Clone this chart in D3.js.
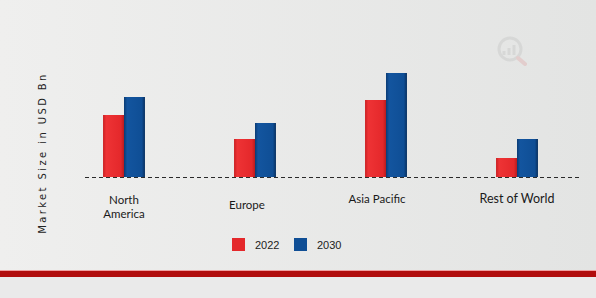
<!DOCTYPE html>
<html><head><meta charset="utf-8">
<script src="https://cdn.jsdelivr.net/npm/d3@7"></script>
<style>html,body{margin:0;padding:0;background:#e7e8e7;}svg{display:block;}</style>
</head><body>
<svg id="c" width="596" height="298"></svg>
<script>
const categories = ["North America", "Europe", "Asia Pacific", "Rest of World"];
const seriesNames = ["2022", "2030"];
const values2022 = [6.2, 3.8, 7.7, 1.9];
const values2030 = [8.0, 5.4, 10.4, 3.8];
const colors = ["#e4282b", "#0f4e95"];
const yTitle = "Market Size in USD Bn";

const svg = d3.select("#c");
const W = 596, H = 298;
const defs = svg.append("defs");
const bg = defs.append("linearGradient").attr("id","bg").attr("x1","0").attr("x2","1");
bg.append("stop").attr("offset","0").attr("stop-color","#efefee");
bg.append("stop").attr("offset","1").attr("stop-color","#e3e4e3");
svg.append("rect").attr("width",W).attr("height",H).attr("fill","url(#bg)");

const gr = defs.append("linearGradient").attr("id","gRed").attr("x1","0").attr("x2","1");
gr.append("stop").attr("offset","0").attr("stop-color","#c91f22");
gr.append("stop").attr("offset","0.15").attr("stop-color","#ee3335");
gr.append("stop").attr("offset","0.85").attr("stop-color","#e4282b");
gr.append("stop").attr("offset","1").attr("stop-color","#b81c1f");
const gb = defs.append("linearGradient").attr("id","gBlue").attr("x1","0").attr("x2","1");
gb.append("stop").attr("offset","0").attr("stop-color","#0a3b74");
gb.append("stop").attr("offset","0.15").attr("stop-color","#13559f");
gb.append("stop").attr("offset","0.85").attr("stop-color","#0f4e95");
gb.append("stop").attr("offset","1").attr("stop-color","#082f5e");
const fills = ["url(#gRed)", "url(#gBlue)"];

// watermark
const wm = svg.append("g").attr("opacity",0.25);
wm.append("circle").attr("cx",510).attr("cy",49).attr("r",11).attr("fill","none").attr("stroke","#b0b0b0").attr("stroke-width",3);
[[504,4],[509,7],[514,10]].forEach(([bx,bh])=>wm.append("rect").attr("x",bx-1.5).attr("y",55-bh).attr("width",3).attr("height",bh).attr("fill","#b0b0b0"));
wm.append("line").attr("x1",518).attr("y1",58).attr("x2",525).attr("y2",64).attr("stroke","#e08a8a").attr("stroke-width",4).attr("stroke-linecap","round");

const baseY = 177, topY = 73;
const x0 = d3.scaleBand().domain(categories).range([58.5, 582.5]).paddingInner(0.68).paddingOuter(0.34);
const x1 = d3.scaleBand().domain(seriesNames).range([0, x0.bandwidth()]);
const y = d3.scaleLinear().domain([0, d3.max(values2030)]).range([baseY, topY]);

const data = categories.map((c,i)=>({cat:c, vals:[values2022[i], values2030[i]]}));
const groups = svg.selectAll("g.grp").data(data).enter().append("g")
  .attr("transform", d=>`translate(${x0(d.cat)},0)`);
groups.selectAll("rect").data(d=>d.vals.map((v,j)=>({v, s:seriesNames[j], j})))
  .enter().append("rect")
  .attr("x", d=>x1(d.s)).attr("width", x1.bandwidth())
  .attr("y", d=>y(d.v)).attr("height", d=>baseY - y(d.v))
  .attr("fill", d=>fills[d.j]);

// dashed baseline
svg.append("line").attr("x1",85).attr("x2",580).attr("y1",baseY+0.5).attr("y2",baseY+0.5)
  .attr("stroke","#2a2a2a").attr("stroke-width",1).attr("stroke-dasharray","4,3");

// category labels
const labelPos = {
  "North America": {dx:0, y:[204, 218]},
  "Europe": {dx:-8, y:[209]},
  "Asia Pacific": {dx:-9, y:[203]},
  "Rest of World": {dx:0, y:[203]}
};
categories.forEach(c=>{
  const cx = x0(c) + x0.bandwidth()/2 + labelPos[c].dx;
  const lines = c === "North America" ? ["North","America"] : [c];
  lines.forEach((t,k)=>{
    svg.append("text").attr("x",cx).attr("y",labelPos[c].y[k])
      .attr("text-anchor","middle").attr("font-family","Lato, 'Open Sans', sans-serif")
      .attr("font-size", c==="Rest of World" ? 12.5 : 11.5).attr("fill","#1a1a1a").text(t);
  });
});

// y title
svg.append("text").attr("transform","translate(46,153) rotate(-90)")
  .attr("text-anchor","middle").attr("font-family","'DejaVu Sans', sans-serif")
  .attr("font-size",10).attr("letter-spacing","2.4px").attr("fill","#222").text(yTitle);

// legend
const lg = svg.append("g");
const legX = [232, 294];
seriesNames.forEach((s,i)=>{
  lg.append("rect").attr("x",legX[i]).attr("y",238).attr("width",13).attr("height",13).attr("fill",colors[i]);
  lg.append("text").attr("x",legX[i]+23).attr("y",248.5).attr("font-family","'Liberation Sans', Arial, sans-serif")
    .attr("font-size",11).attr("fill","#222").text(s);
});

// bottom red band
svg.append("rect").attr("x",0).attr("y",271).attr("width",W).attr("height",6).attr("fill","#b10d0d");
svg.append("rect").attr("x",0).attr("y",270).attr("width",W).attr("height",1).attr("fill","#f0a0a0");
svg.append("rect").attr("x",0).attr("y",277).attr("width",W).attr("height",21).attr("fill","#eaeaea");
</script>
</body></html>
